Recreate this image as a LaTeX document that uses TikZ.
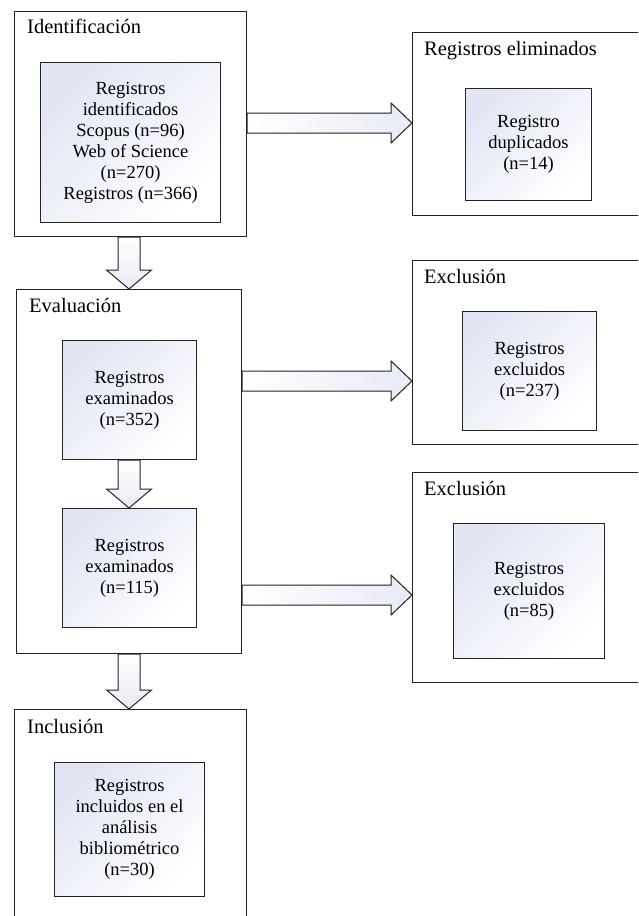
\documentclass[tikz,border=0pt]{standalone}
\usepackage{fontspec}
\setmainfont{Liberation Serif}
\usetikzlibrary{calc}

\definecolor{framecol}{RGB}{35,35,35}
\definecolor{tintcol}{RGB}{226,229,244}
\definecolor{arrowtint}{RGB}{232,234,246}

\tikzset{
  stage/.style={draw=framecol, line width=1.1pt, fill=white, rectangle,
    anchor=north west, inner sep=0pt},
  record/.style={draw=framecol, line width=1.1pt, rectangle, anchor=north west,
    inner sep=2pt, align=center, text=black,
    shading=axis, top color=tintcol, bottom color=white, shading angle=45,
    font=\fontsize{18.5}{21}\selectfont},
  stagetitle/.style={anchor=base west, inner sep=0pt,
    font=\fontsize{20.5}{24}\selectfont},
  blockarrow/.style={draw=framecol, line width=1pt, line join=miter,
    shading=axis, left color=white, right color=arrowtint},
  blockarrowdown/.style={draw=framecol, line width=1pt, line join=miter,
    shading=axis, top color=white, bottom color=arrowtint}
}

\begin{document}
\begin{tikzpicture}[x=1pt, y=-1pt]
\useasboundingbox (0,0) rectangle (638,916);
\clip (0,0) rectangle (638,916);
\fill[white] (0,0) rectangle (638,916);

% stage frames
\node[stage, minimum width=232, minimum height=225] (idbox)   at (14,11)  {};
\node[stage, minimum width=240, minimum height=183] (elim)    at (412,32) {};
\node[stage, minimum width=225, minimum height=364] (evalbox) at (16,289) {};
\node[stage, minimum width=240, minimum height=184] (excA)    at (412,260) {};
\node[stage, minimum width=240, minimum height=210] (excB)    at (412,472) {};
\node[stage, minimum width=232, minimum height=240] (incl)    at (14,709) {};

% stage titles
\node[stagetitle] (tid)   at ($(idbox.north west)+(13,22)$)   {Identificación};
\node[stagetitle] (telim) at ($(elim.north west)+(12,23)$)    {Registros eliminados};
\node[stagetitle] (teval) at ($(evalbox.north west)+(13,23)$) {Evaluación};
\node[stagetitle] (texA)  at ($(excA.north west)+(12,23)$)    {Exclusión};
\node[stagetitle] (texB)  at ($(excB.north west)+(12,23)$)    {Exclusión};
\node[stagetitle] (tincl) at ($(incl.north west)+(13,24)$)    {Inclusión};

% record boxes
\node[record, minimum width=180, minimum height=160] (idin) at (40,62)
  {Registros\\identificados\\Scopus (n=96)\\Web of Science\\(n=270)\\Registros (n=366)};
\node[record, minimum width=126, minimum height=112] (elimin) at (465,88)
  {Registro\\duplicados\\(n=14)};
\node[record, minimum width=134, minimum height=119] (evA) at (62,340)
  {Registros\\examinados\\(n=352)};
\node[record, minimum width=134, minimum height=119] (evB) at (62,508)
  {Registros\\examinados\\(n=115)};
\node[record, minimum width=134, minimum height=119] (exAin) at (462,311)
  {Registros\\excluidos\\(n=237)};
\node[record, minimum width=151, minimum height=135] (exBin) at (453,523)
  {Registros\\excluidos\\(n=85)};
\node[record, minimum width=150, minimum height=134] (inclin) at (54,762)
  {Registros\\incluidos en el\\análisis\\bibliométrico\\(n=30)};

% horizontal block arrows: shaft half height 10, head half height 20, head length 21
\def\hs{10}\def\hh{20}\def\hl{21}
\foreach \src/\dst/\yy in {idbox/elim/123, evalbox/excA/381, evalbox/excB/595}{
  \coordinate (s) at (\src.east |- 0,\yy);
  \coordinate (t) at (\dst.west |- 0,\yy);
  \draw[blockarrow] ($(s)+(0,-\hs)$) -- ($(t)+(-\hl,-\hs)$) -- ($(t)+(-\hl,-\hh)$)
    -- (t) -- ($(t)+(-\hl,\hh)$) -- ($(t)+(-\hl,\hs)$) -- ($(s)+(0,\hs)$) -- cycle;
}

% vertical block arrows: shaft half width 11, head half width 22.5, head length 19
\def\vs{11}\def\vh{22.5}\def\vl{19}
\foreach \src/\dst in {idbox/evalbox, evA/evB, evalbox/incl}{
  \coordinate (s) at (129,0 |- \src.south);
  \coordinate (t) at (129,0 |- \dst.north);
  \draw[blockarrowdown] ($(s)+(-\vs,0)$) -- ($(t)+(-\vs,-\vl)$) -- ($(t)+(-\vh,-\vl)$)
    -- (t) -- ($(t)+(\vh,-\vl)$) -- ($(t)+(\vs,-\vl)$) -- ($(s)+(\vs,0)$) -- cycle;
}
\end{tikzpicture}
\end{document}
